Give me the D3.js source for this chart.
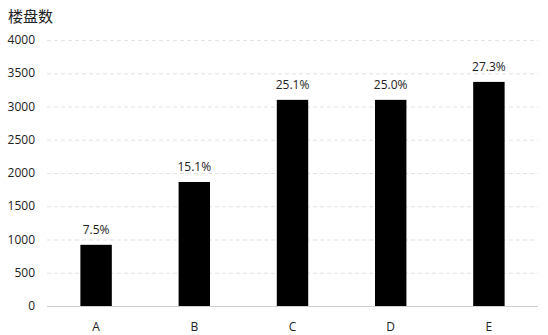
<!DOCTYPE html>
<html><head><meta charset="utf-8">
<script src="https://cdn.jsdelivr.net/npm/d3@7"></script>
<style>body{margin:0;background:#fff}</style>
</head><body>
<script>
const categories = ["A","B","C","D","E"];
const values = [920, 1865, 3100, 3100, 3370];
const percentLabels = ["7.5%","15.1%","25.1%","25.0%","27.3%"];
const yTicks = [0,500,1000,1500,2000,2500,3000,3500,4000];
const yTitle = "楼盘数";

const W=548,H=335, m={l:47,r:10,t:40,b:29};
const svg=d3.select("body").append("svg").attr("width",W).attr("height",H);
const font='"Open Sans","Noto Sans CJK SC",sans-serif';
const cjk='"Noto Sans CJK SC",sans-serif';
const x=d3.scaleBand().domain(categories).range([m.l,W-m.r]).paddingInner(0.68).paddingOuter(0.34);
const y=d3.scaleLinear().domain([0,4000]).range([H-m.b,m.t]);

svg.append("g").selectAll("line").data(yTicks.filter(d=>d>0)).join("line")
 .attr("x1",m.l).attr("x2",W-m.r).attr("y1",d=>y(d)+0.5).attr("y2",d=>y(d)+0.5)
 .attr("stroke","#e3e3e3").attr("stroke-dasharray","4,3");
svg.append("line").attr("x1",m.l).attr("x2",W-m.r).attr("y1",y(0)+0.5).attr("y2",y(0)+0.5).attr("stroke","#d0d0d0");

svg.append("g").selectAll("text").data(yTicks).join("text")
 .attr("x",35).attr("y",d=>y(d)).attr("dy","0.35em").attr("text-anchor","end")
 .attr("font-family",font).attr("font-size",12).attr("fill","#222").text(d=>d);

svg.append("g").selectAll("rect").data(values).join("rect")
 .attr("x",(d,i)=>x(categories[i])).attr("width",x.bandwidth())
 .attr("y",d=>y(d)).attr("height",d=>y(0)-y(d)).attr("fill","#000");

svg.append("g").selectAll("text").data(values).join("text")
 .attr("x",(d,i)=>x(categories[i])+x.bandwidth()/2).attr("y",d=>y(d)-11)
 .attr("text-anchor","middle").attr("font-family",font).attr("font-size",12).attr("fill","#222")
 .text((d,i)=>percentLabels[i]);

svg.append("g").selectAll("text").data(categories).join("text")
 .attr("x",d=>x(d)+x.bandwidth()/2).attr("y",H-m.b+25).attr("text-anchor","middle")
 .attr("font-family",font).attr("font-size",12).attr("fill","#222").text(d=>d);

svg.append("text").attr("x",8).attr("y",22).attr("font-family",cjk).attr("font-size",15).attr("fill","#222").text(yTitle);
</script>
</body></html>
